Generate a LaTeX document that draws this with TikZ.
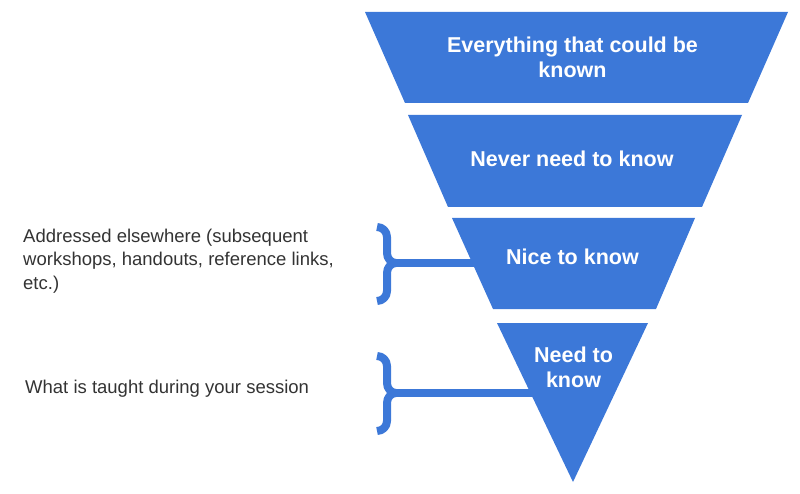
\documentclass[tikz,border=0pt]{standalone}
\usepackage{fontspec}
\setmainfont{Liberation Sans}
\definecolor{bandblue}{HTML}{3C78D8}
\definecolor{notegray}{HTML}{333333}
\tikzset{
  band/.style={fill=bandblue, draw=none},
  bandtext/.style={text=white, font=\fontsize{21.5}{25}\selectfont\bfseries, align=center, inner sep=0pt},
  notetext/.style={text=notegray, font=\fontsize{18.5}{23.5}\selectfont, align=left, inner sep=0pt},
  bracestroke/.style={draw=bandblue, line width=8pt, line cap=butt, line join=round},
}
\begin{document}
\begin{tikzpicture}[x=1pt,y=-1pt]
\useasboundingbox (0,0) rectangle (800,494);
% bands
\fill[band] (365,12) -- (788,12) -- (748,103) -- (405,103) -- cycle;
\fill[band] (408,115) -- (742,115) -- (702,207) -- (448,207) -- cycle;
\fill[band] (452,218) -- (695,218) -- (656,309) -- (493,309) -- cycle;
\fill[band] (497,323) -- (648,323) -- (573,482) -- cycle;
% band labels
\node[bandtext] (everything) at (572.5,57) {Everything that could be\\known};
\node[bandtext, anchor=base] (never) at (572,167) {Never need to know};
\node[bandtext, anchor=base] (nice) at (572.5,265) {Nice to know};
\node[bandtext] (need) at (573.5,367.4) {Need to\\know};
% band anchors for connectors
\coordinate (niceedge) at (482,263);
\coordinate (neededge) at (538,393);
% brace 1
\coordinate (tip1) at (396,263);
\draw[bracestroke] (377,227) to[out=0,in=90] (387,237) -- (387,253) to[out=-90,in=180] (tip1);
\draw[bracestroke] (tip1) to[out=180,in=90] (387,273) -- (387,291) to[out=-90,in=0] (377,301);
\draw[bracestroke] (tip1) -- (niceedge);
% brace 2
\coordinate (tip2) at (396,393);
\draw[bracestroke] (377,356) to[out=0,in=90] (387,366) -- (387,383) to[out=-90,in=180] (tip2);
\draw[bracestroke] (tip2) to[out=180,in=90] (387,403) -- (387,421) to[out=-90,in=0] (377,431);
\draw[bracestroke] (tip2) -- (neededge);
% notes
\node[notetext, anchor=west] (addressed) at (23,261.2) {Addressed elsewhere (subsequent\\workshops, handouts, reference links,\\etc.)};
\node[notetext, anchor=base west] (taught) at (25,393) {What is taught during your session};
\end{tikzpicture}
\end{document}
